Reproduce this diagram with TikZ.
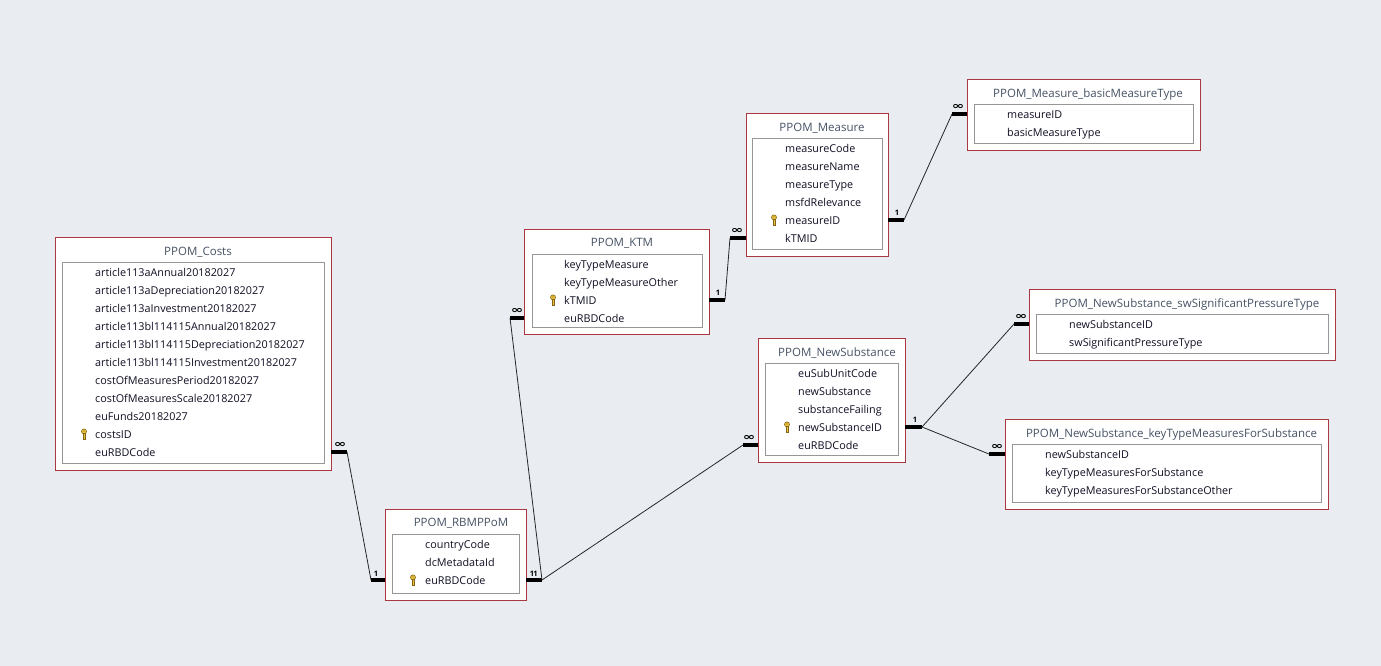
\documentclass[tikz,border=0pt]{standalone}
\usepackage{fontspec}
\setmainfont{Open Sans}
\newfontfamily\djv{DejaVu Sans}
\usetikzlibrary{fit}
\definecolor{bgc}{RGB}{233,237,241}
\definecolor{tred}{RGB}{170,56,62}
\definecolor{igray}{RGB}{150,150,150}
\definecolor{ttlc}{RGB}{70,82,100}
\definecolor{fldc}{RGB}{15,15,35}
\definecolor{keyy}{RGB}{235,195,60}
\definecolor{keyo}{RGB}{130,100,20}
\tikzset{
 tbl/.style={draw=tred, fill=white, line width=0.95pt, inner sep=0pt, outer sep=0pt},
 inbox/.style={draw=igray, line width=0.9pt, inner sep=0pt, outer sep=0pt},
 ttl/.style={font=\fontsize{11.5}{12}\selectfont, text=ttlc, inner sep=0pt, text height=8.3pt, text depth=0pt},
 fld/.style={font=\fontsize{10.8}{12}\selectfont, text=fldc, anchor=west, inner sep=0pt, text height=7.8pt, text depth=0pt},
 bar/.style={line width=3.5pt, black},
 rel/.style={line width=0.8pt, black!85},
 one/.style={font=\bfseries\fontsize{7.5}{8}\selectfont, inner sep=0pt},
 many/.style={font=\djv\bfseries\fontsize{10}{10}\selectfont, inner sep=0pt},
 keyicon/.pic={
  \filldraw[fill=keyy, draw=keyo, line width=0.6pt] (0,-2.6) circle (2.5);
  \fill[keyo] (0,-3) circle (0.7);
  \filldraw[fill=keyy, draw=keyo, line width=0.6pt] (-0.9,-0.3) rectangle (0.9,5.2);
  \draw[keyo, line width=1pt] (0.9,2) -- (2.4,2) (0.9,4.2) -- (2.4,4.2);
 }
}
\begin{document}
\begin{tikzpicture}[x=1pt,y=-1pt]
\fill[bgc] (0,0) rectangle (1381,666);
\useasboundingbox (0,0) rectangle (1381,666);

% PPOM_Costs
\node[tbl, fit={(55,237) (331,470)}] (costs) {};
\node[inbox, fit={(62,262) (324,463)}] (costsI) {};
\node[ttl] (costsT) at (198,251) {PPOM\_Costs};
\foreach \t [count=\i] in {article113aAnnual20182027,article113aDepreciation20182027,article113aInvestment20182027,article113bl114115Annual20182027,article113bl114115Depreciation20182027,article113bl114115Investment20182027,costOfMeasuresPeriod20182027,costOfMeasuresScale20182027,euFunds20182027,costsID,euRBDCode}
  \node[fld] (costs-\i) at (95,255+18*\i) {\t};
\pic at (84,434) {keyicon};

% PPOM_RBMPPoM
\node[tbl, fit={(385,509) (526,600)}] (rbm) {};
\node[inbox, fit={(392,534) (519,593)}] (rbmI) {};
\node[ttl] (rbmT) at (461,522.5) {PPOM\_RBMPPoM};
\foreach \t [count=\i] in {countryCode,dcMetadataId,euRBDCode}
  \node[fld] (rbm-\i) at (425,527+18*\i) {\t};
\pic at (413,580) {keyicon};

% PPOM_KTM
\node[tbl, fit={(524,229) (709,334)}] (ktm) {};
\node[inbox, fit={(532,254) (702,327)}] (ktmI) {};
\node[ttl] (ktmT) at (622,242.5) {PPOM\_KTM};
\foreach \t [count=\i] in {keyTypeMeasure,keyTypeMeasureOther,kTMID,euRBDCode}
  \node[fld] (ktm-\i) at (564,247+18*\i) {\t};
\pic at (553,300) {keyicon};

% PPOM_Measure
\node[tbl, fit={(746,113) (888,256)}] (meas) {};
\node[inbox, fit={(752,138) (882,249)}] (measI) {};
\node[ttl] (measT) at (822,127) {PPOM\_Measure};
\foreach \t [count=\i] in {measureCode,measureName,measureType,msfdRelevance,measureID,kTMID}
  \node[fld] (meas-\i) at (785,131+18*\i) {\t};
\pic at (774,220) {keyicon};

% PPOM_Measure_basicMeasureType
\node[tbl, fit={(967,79) (1200,150)}] (basic) {};
\node[inbox, fit={(974,104) (1193,143)}] (basicI) {};
\node[ttl] (basicT) at (1088,93) {PPOM\_Measure\_basicMeasureType};
\foreach \t [count=\i] in {measureID,basicMeasureType}
  \node[fld] (basic-\i) at (1007,97+18*\i) {\t};

% PPOM_NewSubstance
\node[tbl, fit={(758,338) (905,462)}] (ns) {};
\node[inbox, fit={(765,363) (898,455)}] (nsI) {};
\node[ttl] (nsT) at (837,352.5) {PPOM\_NewSubstance};
\foreach \t [count=\i] in {euSubUnitCode,newSubstance,substanceFailing,newSubstanceID,euRBDCode}
  \node[fld] (ns-\i) at (798,356+18*\i) {\t};
\pic at (787,427) {keyicon};

% PPOM_NewSubstance_swSignificantPressureType
\node[tbl, fit={(1029,289) (1335,360)}] (sw) {};
\node[inbox, fit={(1036,314) (1328,353)}] (swI) {};
\node[ttl] (swT) at (1187,303.5) {PPOM\_NewSubstance\_swSignificantPressureType};
\foreach \t [count=\i] in {newSubstanceID,swSignificantPressureType}
  \node[fld] (sw-\i) at (1069,307+18*\i) {\t};

% PPOM_NewSubstance_keyTypeMeasuresForSubstance
\node[tbl, fit={(1005,419) (1328,509)}] (kt) {};
\node[inbox, fit={(1012,444) (1321,502)}] (ktI) {};
\node[ttl] (ktT) at (1171.5,433.5) {PPOM\_NewSubstance\_keyTypeMeasuresForSubstance};
\foreach \t [count=\i] in {newSubstanceID,keyTypeMeasuresForSubstance,keyTypeMeasuresForSubstanceOther}
  \node[fld] (kt-\i) at (1045,437+18*\i) {\t};

% connector end points
\coordinate (c1a) at (347,452);
\coordinate (c1b) at (371,580);
\coordinate (c2a) at (542,580);
\coordinate (c2b) at (510,318);
\coordinate (c3b) at (743,445);
\coordinate (c4a) at (725,300);
\coordinate (c4b) at (730,238);
\coordinate (c5a) at (904,220);
\coordinate (c5b) at (952,114);
\coordinate (c6a) at (922,427);
\coordinate (c6b) at (1014,324);
\coordinate (c7b) at (989,454);

% Costs -> RBMPPoM
\draw[bar] (costs.east |- c1a) -- (c1a);
\draw[rel] (c1a) -- (c1b);
\draw[bar] (c1b) -- (rbm.west |- c1b);
% RBMPPoM -> KTM
\draw[bar] (rbm.east |- c2a) -- (c2a);
\draw[rel] (c2a) -- (c2b);
\draw[bar] (c2b) -- (ktm.west |- c2b);
% RBMPPoM -> NewSubstance
\draw[rel] (c2a) -- (c3b);
\draw[bar] (c3b) -- (ns.west |- c3b);
% KTM -> Measure
\draw[bar] (ktm.east |- c4a) -- (c4a);
\draw[rel] (c4a) -- (c4b);
\draw[bar] (c4b) -- (meas.west |- c4b);
% Measure -> basicMeasureType
\draw[bar] (meas.east |- c5a) -- (c5a);
\draw[rel] (c5a) -- (c5b);
\draw[bar] (c5b) -- (basic.west |- c5b);
% NewSubstance -> sw / keyType
\draw[bar] (ns.east |- c6a) -- (c6a);
\draw[rel] (c6a) -- (c6b);
\draw[bar] (c6b) -- (sw.west |- c6b);
\draw[rel] (c6a) -- (c7b);
\draw[bar] (c7b) -- (kt.west |- c7b);

% cardinality labels
\node[many] (m1) at (340,445) {\scalebox{1.5}[1]{∞}};
\node[one] (o1) at (376,574) {1};
\node[one] (o2a) at (532,574) {1};
\node[one] (o2b) at (535.5,574) {1};
\node[many] (m2) at (517,311) {\scalebox{1.5}[1]{∞}};
\node[many] (m3) at (749,438) {\scalebox{1.5}[1]{∞}};
\node[one] (o4) at (718,293) {1};
\node[many] (m4) at (737,231) {\scalebox{1.5}[1]{∞}};
\node[one] (o5) at (897,213) {1};
\node[many] (m5) at (958,107) {\scalebox{1.5}[1]{∞}};
\node[one] (o6) at (915,420) {1};
\node[many] (m6) at (1021,317) {\scalebox{1.5}[1]{∞}};
\node[many] (m7) at (997,447) {\scalebox{1.5}[1]{∞}};
\end{tikzpicture}
\end{document}
